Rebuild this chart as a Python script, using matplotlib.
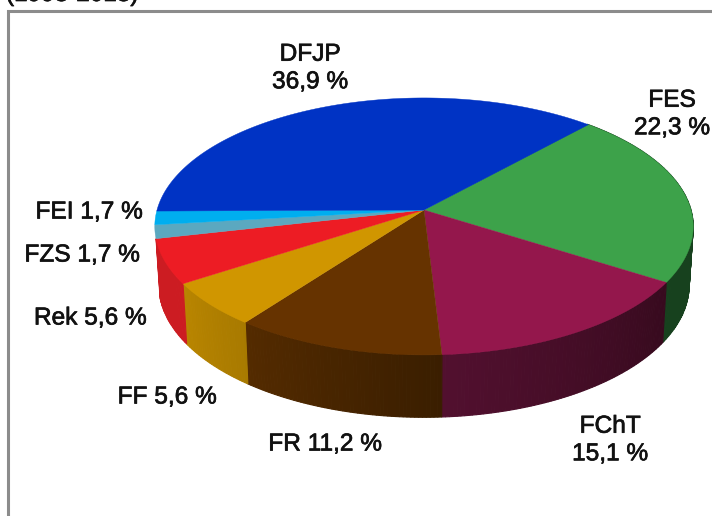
import numpy as np
import matplotlib
matplotlib.use("Agg")
import matplotlib.pyplot as plt
import matplotlib.patheffects as pe
from matplotlib.patches import Polygon

plt.rcParams['font.family'] = ['Liberation Sans', 'DejaVu Sans']

# Data, clockwise starting at the FES / DFJP boundary
categories = ['FES', 'FChT', 'FR', 'FF', 'Rek', 'FZS', 'FEI', 'DFJP']
shares = [22.3, 15.1, 11.2, 5.6, 5.6, 1.7, 1.7, 36.9]
labels = ['FES\n22,3 %', 'FChT\n15,1 %', 'FR 11,2 %', 'FF 5,6 %', 'Rek 5,6 %',
          'FZS 1,7 %', 'FEI 1,7 %', 'DFJP\n36,9 %']
title_text = '(1993-2013)'

top_colors = ['#3DA24A', '#94174C', '#663300', '#D09600', '#ED1C24', '#5BA8C0', '#00AEEF', '#0033C4']
side_left = ['#17411E', '#52102F', '#542B00', '#B98500', '#CC1C22']
side_right = ['#17411E', '#370A1E', '#3A1E00', '#A87A00', '#CC1C22']
label_xy = [(672, 113), (610, 439), (325, 443), (167, 396), (90, 317), (82, 254), (89, 211), (310, 67)]

start_deg = 48.0
cx, cy = 424.0, 210.0
A, B, k = 126.4, 267.0, 0.128


def project(t):
    x, y = np.cos(t), np.sin(t)
    d = 1 + k * y
    return cx + B * x / d, cy - A * y / d


def project_low(t):
    px, py = project(t)
    return cx + (px - cx) * 0.985, cy + (py - cy) * 1.03 + 58


def hex_rgb(h):
    return np.array(matplotlib.colors.to_rgb(h))


fig = plt.figure(figsize=(7.12, 5.16), dpi=100)
ax = fig.add_axes([0, 0, 1, 1])
ax.set_xlim(0, 712)
ax.set_ylim(516, 0)
ax.axis('off')

stroke = [pe.withStroke(linewidth=0.5, foreground='#111111')]

# Frame and clipped header
ax.plot([7.5, 7.5, 712], [516, 10.5, 10.5], color='#8C8C8C', lw=2.2, solid_joinstyle='miter', zorder=1)
ax.text(6, 1, title_text, fontsize=17.5, ha='left', va='baseline', color='#111111', zorder=5,
        path_effects=stroke)

angles = start_deg - np.cumsum([0] + shares) * 3.6

# Sides (only the wedges whose outer wall faces the viewer)
for i in range(len(side_left)):
    ts = np.radians(np.linspace(angles[i], angles[i + 1], max(int(shares[i] * 5), 6)))
    xt, yt = project(ts)
    xb, yb = project_low(ts)
    cr, cl = hex_rgb(side_right[i]), hex_rgb(side_left[i])
    n = len(ts) - 1
    for j in range(n):
        f = (j + 0.5) / n
        poly = [(xt[j], yt[j]), (xt[j + 1], yt[j + 1]), (xb[j + 1], yb[j + 1]), (xb[j], yb[j])]
        c = cr + (cl - cr) * f
        ax.add_patch(Polygon(poly, closed=True, fc=c, ec=c, lw=0.8, zorder=2))

# Top faces
for i in range(len(shares)):
    ts = np.radians(np.linspace(angles[i], angles[i + 1], max(int(shares[i] * 6), 8)))
    xt, yt = project(ts)
    poly = [(cx, cy)] + list(zip(xt, yt))
    ax.add_patch(Polygon(poly, closed=True, fc=top_colors[i], ec=top_colors[i], lw=0.3, zorder=3))

# Labels
for lab, (lx, ly) in zip(labels, label_xy):
    ax.text(lx, ly + 1.5, lab, fontsize=17.6, ha='center', va='center', color='#111111',
            linespacing=1.33, zorder=5, path_effects=stroke)

fig.savefig('out.png', dpi=100)
